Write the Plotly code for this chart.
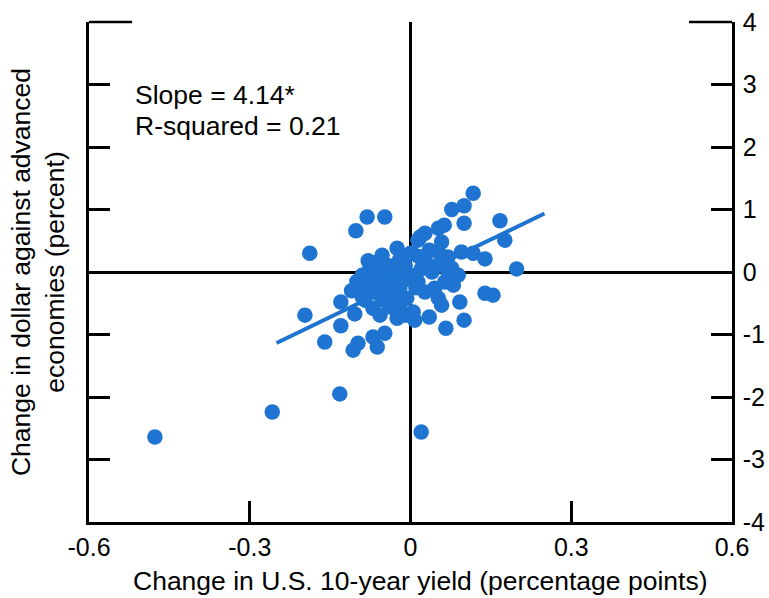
import plotly.graph_objects as go

# ---- data ----
yield_change = [
    -0.477, -0.258, -0.132, 0.020,
    -0.197, -0.130, -0.104, -0.130, -0.160, -0.107, -0.098, -0.070, -0.048, -0.062,
    -0.090, -0.070, -0.057, -0.025, -0.038, -0.020, -0.010, -0.081, -0.062, -0.089,
    -0.038, -0.020, -0.007, -0.076,
    -0.081, -0.048, -0.102, -0.188, -0.079, -0.053, -0.025, 0.018,
    0.117, 0.077, 0.100, 0.100, 0.063, 0.052, 0.167, 0.176, 0.027, 0.014,
    0.058, 0.095, 0.117, 0.139, 0.198, 0.070, 0.052, 0.077, 0.003,
    0.139, 0.154, 0.092, 0.100, 0.066, 0.035, 0.052, 0.058, 0.005, 0.008,
    0.080, 0.089, 0.070, 0.027, 0.045, 0.014, 0.064,
    -0.070, -0.050, -0.030, -0.010, 0.000, 0.020, 0.030, -0.040, -0.060, -0.020,
    0.010, -0.080, -0.050, -0.030, 0.040, 0.050, -0.090, -0.100, -0.065, -0.015,
    0.015, 0.035, -0.040, -0.025, 0.000, 0.060, -0.110, -0.085,
    -0.070, -0.045, -0.020, -0.055,
]
dollar_change = [
    -2.64, -2.24, -1.95, -2.56,
    -0.69, -0.48, -0.67, -0.86, -1.12, -1.25, -1.14, -1.04, -0.98, -1.20,
    -0.40, -0.58, -0.69, -0.74, -0.56, -0.53, -0.69, -0.10, -0.21, -0.21,
    -0.32, -0.26, -0.42, 0.06,
    0.88, 0.88, 0.66, 0.30, 0.18, 0.27, 0.38, 0.56,
    1.26, 1.00, 1.06, 0.78, 0.75, 0.70, 0.82, 0.51, 0.62, 0.51,
    0.48, 0.32, 0.30, 0.21, 0.05, 0.24, 0.32, 0.06, 0.30,
    -0.34, -0.37, -0.48, -0.77, -0.90, -0.72, -0.42, -0.53, -0.64, -0.77,
    -0.21, -0.05, 0.00, -0.32, -0.26, -0.16, -0.16,
    -0.02, 0.05, -0.10, 0.10, -0.05, 0.05, 0.15, -0.20, -0.35, 0.20,
    -0.25, -0.25, -0.45, -0.35, 0.00, 0.10, -0.05, -0.15, 0.15, -0.15,
    0.25, 0.35, 0.10, -0.45, 0.30, 0.15, -0.30, -0.45,
    0.12, 0.08, 0.00, -0.08,
]
fit_x = [-0.25, 0.25]
fit_y = [-1.135, 0.935]

x_ticks = [-0.6, -0.3, 0, 0.3, 0.6]
x_tick_labels = ["-0.6", "-0.3", "0", "0.3", "0.6"]
y_ticks = [-4, -3, -2, -1, 0, 1, 2, 3, 4]
y_tick_labels = ["-4", "-3", "-2", "-1", "0", "1", "2", "3", "4"]

x_title = "Change in U.S. 10-year yield (percentage points)"
y_title = "Change in dollar against advanced<br>economies (percent)"
stat_lines = ["Slope = 4.14*", "R-squared = 0.21"]

BLUE = "#1e74d0"
FONT = "Liberation Sans, Arial, sans-serif"
FS = 26.5
TFS = 25
LW = 2.5

fig = go.Figure()
fig.add_trace(go.Scatter(
    x=yield_change, y=dollar_change, mode="markers",
    marker=dict(size=15.5, color=BLUE, line=dict(width=0)),
    showlegend=False, hoverinfo="skip",
))
fig.add_trace(go.Scatter(
    x=fit_x, y=fit_y, mode="lines",
    line=dict(color=BLUE, width=4),
    showlegend=False, hoverinfo="skip",
))
# invisible trace to activate right axis
fig.add_trace(go.Scatter(x=[None], y=[None], yaxis="y2", showlegend=False))

axis_common = dict(
    showline=True, linecolor="black", linewidth=LW,
    ticks="inside", ticklen=21, tickwidth=LW, tickcolor="black",
    showgrid=False,
    tickfont=dict(family=FONT, size=TFS, color="black"),
)

fig.update_layout(
    width=769, height=598,
    margin=dict(l=89, r=37, t=22, b=76, autoexpand=False),
    paper_bgcolor="white", plot_bgcolor="white",
    font=dict(family=FONT, size=FS, color="black"),
    xaxis=dict(
        range=[-0.6, 0.6], tickvals=x_ticks, ticktext=x_tick_labels,
        zeroline=True, zerolinecolor="black", zerolinewidth=LW,
        ticklabelstandoff=1,
        **axis_common,
    ),
    yaxis=dict(
        range=[-4, 4], tickvals=y_ticks, showticklabels=False,
        zeroline=True, zerolinecolor="black", zerolinewidth=LW,
        title=dict(text=y_title, font=dict(family=FONT, size=FS), standoff=14),
        **axis_common,
    ),
    yaxis2=dict(
        range=[-4, 4], tickvals=y_ticks, ticktext=y_tick_labels,
        overlaying="y", side="right", zeroline=False,
        ticklabelstandoff=3,
        **axis_common,
    ),
    annotations=[
        dict(text=stat_lines[0], xref="paper", yref="paper", x=0.0684, y=0.854,
             xanchor="left", yanchor="middle", showarrow=False,
             font=dict(family=FONT, size=FS, color="black")),
        dict(text=stat_lines[1], xref="paper", yref="paper", x=0.0684, y=0.792,
             xanchor="left", yanchor="middle", showarrow=False,
             font=dict(family=FONT, size=FS, color="black")),
        dict(text=x_title, xref="paper", yref="paper", x=0.515, y=-0.15,
             xanchor="center", yanchor="bottom", showarrow=False, borderpad=0,
             font=dict(family=FONT, size=FS, color="black")),
    ],
    shapes=[
        dict(type="line", xref="paper", yref="paper", x0=0, x1=0.067, y0=1, y1=1,
             line=dict(color="black", width=LW)),
        dict(type="line", xref="paper", yref="paper", x0=0.933, x1=1, y0=1, y1=1,
             line=dict(color="black", width=LW)),
    ],
)

fig.write_html("out.html")
